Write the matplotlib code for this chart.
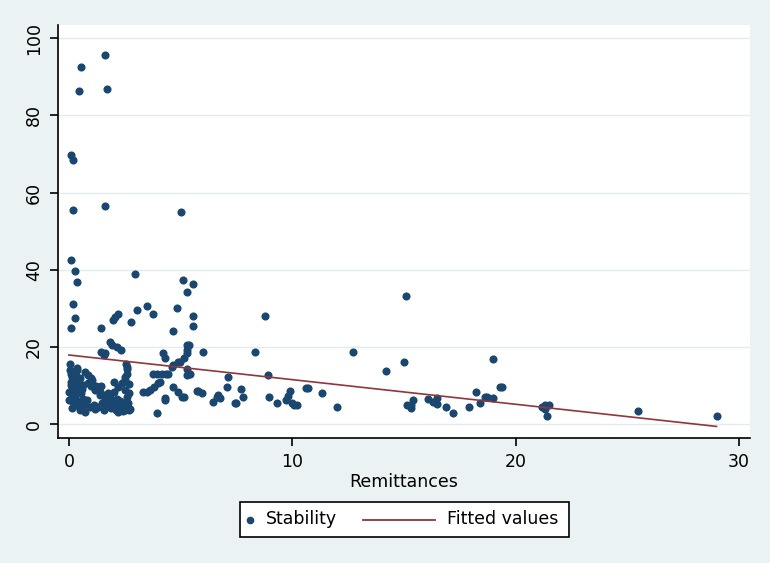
import matplotlib.pyplot as plt
from matplotlib.lines import Line2D
from matplotlib.patches import Rectangle

# Remittances (x) and Stability (y)
remit = [
    0.54, 0.45, 1.6, 1.7, 0.09, 0.18, 0.18, 1.6, 5.0,
    0.09, 0.27, 0.36, 2.96, 0.18, 0.27, 0.09, 1.43, 1.84, 1.97, 2.06, 2.2,
    2.78, 3.05, 3.5, 3.77, 4.84, 4.66, 5.11, 5.56, 5.29, 5.56, 5.56,
    1.43, 1.57, 2.15, 2.33, 2.6, 2.56, 4.2, 4.3, 5.29, 5.38, 6.0, 5.16, 4.98,
    5.43, 3.77, 3.95, 4.35, 4.66, 4.9, 3.5, 4.0, 3.8, 3.63, 4.3, 3.95, 4.66,
    4.9, 5.16, 5.74, 5.96, 6.46, 6.64, 7.13, 7.5,
    8.34, 8.8, 8.9, 6.77, 7.08, 7.44, 7.7, 7.8, 8.97, 9.3, 9.7, 9.8, 9.9,
    10.2, 10.0, 10.7, 11.35, 12.0, 12.7, 14.2, 15.0, 15.1, 15.15, 15.3, 15.4,
    15.3, 16.1, 16.3, 16.5, 16.5, 16.9, 17.2, 17.9, 18.25, 18.4, 18.7, 19.0,
    19.0, 19.3, 19.4, 18.65, 21.3, 21.3, 21.4, 21.5, 21.2, 25.5, 29.0,
    5.8, 6.67, 10.1, 10.6,
    5.3, 5.3, 4.6, 5.3, 4.17, 4.44, 5.3, 4.08, 3.3, 5.07, 4.3,
    2.62, 2.68, 2.7, 2.66, 2.72,
    1.93, 1.6, 2.6, 2.5,
    0.04, 0.05, 0.13, 0.07, 0.2, 0.27, 0.4, 0.0, 0.0, 0.13,
    0.36, 0.5, 0.63, 0.36, 0.72, 0.85, 1.03,
    0.85, 1.17, 1.39, 1.6, 1.84, 0.49, 0.36, 0.72,
    1.3, 1.52, 1.84, 2.06, 2.29, 2.5, 2.2, 2.7,
    1.75, 1.93, 1.75, 1.57,
    2.38, 2.5, 2.6, 2.42, 2.5, 0.18, 0.8,
    0.1, 0.22, 0.3, 0.15, 0.45, 0.6, 1.0, 1.2, 1.1, 0.95, 1.45, 2.0, 2.15,
    0.1, 0.2, 0.3, 0.25, 0.4, 0.5, 0.6, 0.3, 0.45, 0.55, 0.15, 0.35, 0.65, 0.7,
    1.0, 1.2, 1.4, 1.6, 1.8, 2.0, 2.2, 2.4, 2.6, 1.9, 2.1, 2.4, 2.6, 2.3,
    2.55, 1.5, 1.3, 1.15, 2.0, 2.2,
]
stability = [
    92.5, 86.3, 95.6, 86.9, 69.8, 68.3, 55.4, 56.4, 54.9,
    42.5, 39.7, 36.9, 38.9, 31.2, 27.6, 25.0, 25.0, 21.4, 27.1, 27.8, 28.6,
    26.5, 29.6, 30.7, 28.6, 30.2, 24.0, 37.4, 36.3, 34.3, 28.1, 25.3,
    18.8, 18.0, 20.1, 19.3, 14.2, 15.7, 18.3, 17.0, 19.3, 20.6, 18.8, 17.0, 16.2,
    13.1, 13.1, 13.1, 13.1, 15.2, 16.2, 8.2, 10.6, 9.5, 8.8, 6.2, 2.8, 9.5,
    8.2, 7.0, 8.5, 8.0, 5.7, 7.0, 12.1, 5.4,
    18.8, 28.1, 12.6, 6.7, 9.5, 5.4, 9.0, 7.0, 7.0, 5.4, 6.2, 7.2, 8.5,
    4.9, 5.4, 9.3, 8.0, 4.4, 18.8, 13.7, 16.2, 33.2, 4.9, 4.1, 6.2,
    4.9, 6.4, 5.7, 6.7, 5.2, 4.4, 2.8, 4.4, 8.2, 5.4, 7.0, 6.7,
    16.8, 9.5, 9.5, 7.0, 4.9, 3.9, 2.1, 4.9, 4.4, 3.4, 2.1,
    8.5, 7.5, 4.9, 9.3,
    20.4, 18.3, 14.7, 14.4, 13.1, 13.1, 12.6, 10.8, 8.2, 7.0, 6.7,
    13.0, 10.5, 8.0, 5.5, 3.8,
    20.4, 18.3, 14.7, 11.3,
    15.7, 14.0, 12.1, 10.1, 8.2, 6.7, 4.9, 8.2, 6.2, 4.1,
    13.9, 11.9, 10.1, 8.8, 13.4, 12.6, 11.3,
    10.6, 8.8, 7.5, 6.2, 4.9, 3.6, 4.9, 3.1,
    8.8, 7.5, 6.7, 5.4, 4.4, 3.6, 3.1, 3.6,
    8.0, 6.2, 4.9, 3.6,
    10.6, 8.8, 7.0, 5.4, 12.1, 5.7, 6.2,
    11.0, 9.5, 12.5, 7.5, 10.0, 9.0, 12.0, 10.0, 5.0, 4.5, 9.8, 11.0, 6.5,
    13.0, 11.5, 9.5, 7.5, 6.0, 5.0, 4.0, 12.5, 10.5, 8.0, 9.0, 14.5, 6.5, 5.2,
    9.8, 9.0, 8.2, 7.3, 6.4, 5.6, 5.0, 4.4, 4.2, 4.2, 3.6, 3.3, 3.8, 6.0,
    5.0, 5.5, 4.5, 3.8, 8.2, 9.5,
]

# Fitted values read at the ends of the line
fit_x = [0.0, 29.0]
fit_y = [17.9, -0.6]

x_ticks = [0, 10, 20, 30]
y_ticks = [0, 20, 40, 60, 80, 100]
legend_labels = ['Stability', 'Fitted values']

bg = '#eaf2f3'
navy = '#1a476f'
maroon = '#90353b'
fs = 12.5
W, H = 770, 563

fig = plt.figure(figsize=(W / 100, H / 100), dpi=100, facecolor=bg)
ax = fig.add_axes([58 / W, 1 - 438 / H, (750 - 58) / W, (438 - 25) / H])
ax.set_facecolor('white')

ax.scatter(remit, stability, s=34, color=navy, linewidths=0, zorder=3)
ax.plot(fit_x, fit_y, color=maroon, linewidth=1.2, zorder=4)

ax.set_xlim(-0.49, 30.5)
ax.set_ylim(-3.6, 103.4)
ax.set_xticks(x_ticks)
ax.set_yticks(y_ticks)
ax.grid(axis='y', color='#e2ebee', linewidth=1.0, zorder=0)
ax.set_axisbelow(True)

for s in ['top', 'right']:
    ax.spines[s].set_visible(False)
for s in ['left', 'bottom']:
    ax.spines[s].set_linewidth(1.2)
    ax.spines[s].set_color('black')

ax.tick_params(direction='out', length=6, width=1.2, labelsize=fs, pad=5)
plt.setp(ax.get_yticklabels(), rotation=90, va='center')
ax.set_xlabel('Remittances', fontsize=fs, labelpad=1)

# Stata-style legend, laid out by hand in figure pixels
def fx(px):
    return px / W

def fy(py):
    return 1 - py / H

fig.patches.append(Rectangle((fx(240), fy(537)), fx(569) - fx(240), fy(502) - fy(537),
                             transform=fig.transFigure, facecolor='white',
                             edgecolor='black', linewidth=1.2))
fig.lines.append(Line2D([fx(250)], [fy(519.5)], transform=fig.transFigure,
                        marker='o', linestyle='none', color=navy, markersize=4.5))
fig.text(fx(266), fy(519.5), legend_labels[0], fontsize=fs, va='center', ha='left')
fig.lines.append(Line2D([fx(363), fx(435)], [fy(519.5), fy(519.5)],
                        transform=fig.transFigure, color=maroon, linewidth=1.3))
fig.text(fx(447), fy(519.5), legend_labels[1], fontsize=fs, va='center', ha='left')

fig.savefig('out.png', dpi=100, facecolor=bg)
